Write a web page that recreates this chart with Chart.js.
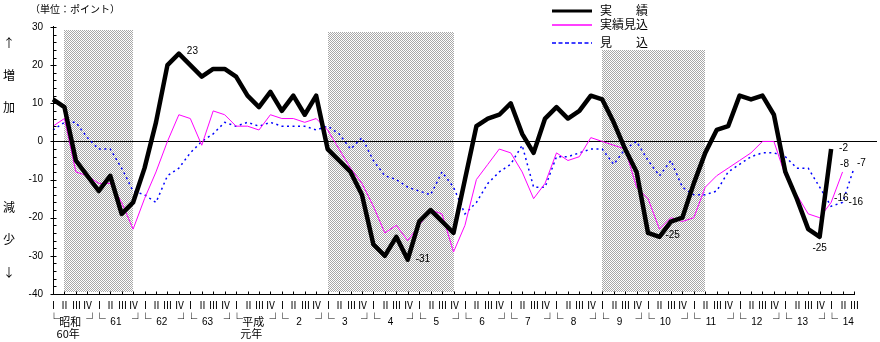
<!DOCTYPE html>
<html><head><meta charset="utf-8">
<script src="https://cdn.jsdelivr.net/npm/chart.js@4.4.0/dist/chart.umd.min.js"></script>
<style>html,body{margin:0;padding:0;background:#fff;}#wrap{width:880px;height:342px;position:relative;}</style>
</head><body><div id="wrap"><canvas id="c" width="880" height="342"></canvas></div>
<script>
// ---- data ----
const quarterNames = ['Ⅰ','Ⅱ','Ⅲ','Ⅳ'];
const yearLabels = ['昭和','61','62','63','平成','2','3','4','5','6','7','8','9','10','11','12','13','14'];
const yearSubLabels = ['60年','','','','元年','','','','','','','','','','','','',''];
const quarterCount = 71;
const categories = [];
for (let i = 0; i < quarterCount; i++) categories.push(quarterNames[i % 4]);

const actual = [11,9,-5,-9,-13,-9,-19,-16,-7,5,20,23,20,17,19,19,17,12,9,13,8,12,7,12,
  -2,-5,-8,-14,-27,-30,-25,-31,-21,-18,-21,-24,-10,4,6,7,10,2,-3,6,9,6,8,12,
  11,5,-2,-8,-24,-25,-21,-20,-11,-3,3,4,12,11,12,7,-8,-15,-23,-25,-2,null,null];
const estimate = [4,6,-8,-9,-11,-11,-16,-23,-15,-8,0,7,6,-1,8,7,4,4,3,7,6,6,5,6,
  3,-2,-7,-11,-17,-24,-22,-26,-22,-18,-19,-29,-22,-10,-6,-2,-3,-8,-15,-11,-3,-5,-4,1,
  0,-1,-2,-12,-15,-23,-20,-21,-20,-12,-9,-7,-5,-3,0,0,-9,-14,-19,-20,-16,-8,null];
const forecast = [3,5,5,1,-2,-2,-7,-13,-14,-16,-9,-7,-3,0,2,5,4,5,4,5,4,4,4,3,
  4,2,-2,1,-5,-9,-10,-12,-13,-14,-8,-12,-19,-16,-11,-8,-6,-1,-12,-12,-4,-4,-3,-2,
  -2,-6,-2,0,-5,-9,-5,-12,-14,-14,-13,-8,-6,-4,-3,-3,-4,-7,-7,-12,-17,-16,-7];
const seriesNames = ['実　　績','実績見込','見　　込'];
const yTickValues = [30,20,10,0,-10,-20,-30,-40];
const shadeStart = [1,24,48];
const shadeEnd = [7,35,57];
const shadeTop = [29.2,28.7,24];
const shadeBottom = -39.4;
const pointLabels = [ // [series, index, text]
  [0,11,'23'],[0,31,'-31'],[0,53,'-25'],[0,67,'-25'],[0,68,'-2'],
  [1,68,'-16'],[1,69,'-8'],[2,69,'-16'],[2,70,'-7']
];

// ---- drawing helpers ----
const JP = '"Noto Sans CJK JP", sans-serif';
const NUM = '"Liberation Sans", Arial, sans-serif';
function makePattern(ctx){
  const pc = document.createElement('canvas'); pc.width = 2; pc.height = 2;
  const p = pc.getContext('2d');
  p.fillStyle = '#ffffff'; p.fillRect(0,0,2,2);
  p.fillStyle = '#a8a8a8'; p.fillRect(0,0,1,1); p.fillRect(1,1,1,1);
  return ctx.createPattern(pc,'repeat');
}
const labelOffsets = {
  '0,11':[8,-2,'left'], '0,31':[8,0,'left'], '0,53':[6,-2,'left'], '0,67':[0,11,'center'],
  '0,68':[8,-1,'left'], '1,68':[3,-4,'left'], '1,69':[2,-8,'center'], '2,69':[6,0,'left'], '2,70':[3,-5,'left']
};

const deco = {
  id:'deco',
  beforeDatasetsDraw(chart){
    const {ctx, chartArea:a, scales:{x,y}} = chart;
    ctx.save();
    ctx.fillStyle = makePattern(ctx);
    for (let k = 0; k < shadeStart.length; k++){
      const x0 = Math.round(x.getPixelForValue(shadeStart[k]));
      const x1 = Math.round(x.getPixelForValue(shadeEnd[k]));
      const y0 = Math.round(y.getPixelForValue(shadeTop[k]));
      const y1 = Math.round(y.getPixelForValue(shadeBottom));
      ctx.fillRect(x0, y0, x1 - x0, y1 - y0);
    }
    ctx.strokeStyle = '#000'; ctx.lineWidth = 1;
    const zy = Math.round(y.getPixelForValue(0)) + 0.5;
    ctx.beginPath(); ctx.moveTo(a.left, zy); ctx.lineTo(877, zy); ctx.stroke();
    ctx.restore();
  },
  afterDraw(chart){
    const {ctx, chartArea:a, scales:{x,y}} = chart;
    ctx.save();
    ctx.strokeStyle = '#000'; ctx.fillStyle = '#000'; ctx.lineWidth = 1;
    const ax = Math.round(a.left) + 0.5, ab = Math.round(a.bottom) + 0.5;
    ctx.beginPath(); ctx.moveTo(ax, a.top - 1); ctx.lineTo(ax, ab); ctx.lineTo(Math.round(a.right) + 1, ab); ctx.stroke();
    for (let v = -40; v <= 30; v += 2){
      const py = Math.round(y.getPixelForValue(v)) + 0.5;
      ctx.beginPath();
      if (v % 10 === 0) { ctx.moveTo(ax - 3, py); ctx.lineTo(ax + 3, py); }
      else { ctx.moveTo(ax, py); ctx.lineTo(ax + 3, py); }
      ctx.stroke();
    }
    ctx.font = '10px ' + NUM; ctx.textAlign = 'right'; ctx.textBaseline = 'middle';
    yTickValues.forEach(v => ctx.fillText(String(v), 43, y.getPixelForValue(v)));
    ctx.font = '10px ' + JP; ctx.textAlign = 'center';
    for (let i = 0; i < quarterCount; i++){
      const px = Math.round(x.getPixelForValue(i)) + 0.5;
      ctx.beginPath(); ctx.moveTo(px, ab); ctx.lineTo(px, ab - 3); ctx.stroke();
      ctx.fillText(categories[i], px, 305);
    }
    const step = x.getPixelForValue(1) - x.getPixelForValue(0);
    for (let k = 0; k < yearLabels.length; k++){
      const q1 = x.getPixelForValue(4*k);
      const mid = q1 + 1.5*step;
      ctx.font = 'bold 12px ' + JP; ctx.textBaseline = 'middle'; ctx.textAlign = 'center';
      ctx.fillText('└', q1 + 1, 319);
      if (4*k + 3 < quarterCount) ctx.fillText('┘', q1 + 3*step + 5, 319);
      const isNum = /^[0-9]+$/.test(yearLabels[k]);
      ctx.font = isNum ? ('10px ' + NUM) : ('11px ' + JP);
      ctx.fillText(yearLabels[k], mid, 322);
      if (yearSubLabels[k]) { ctx.font = '11px ' + JP; ctx.fillText(yearSubLabels[k], mid - 2, 334); }
    }
    ctx.font = '12px ' + JP; ctx.textAlign = 'center'; ctx.textBaseline = 'middle';
    [['↑',43],['増',75],['加',107],['減',207],['少',239],['↓',272]].forEach(t => ctx.fillText(t[0], 9, t[1]));
    ctx.font = '10px ' + JP; ctx.textAlign = 'left';
    ctx.fillText('（単位：ポイント）', 30, 9);
    const lg = [[11,'#000',3,[]],[25,'#ff00ff',1.5,[]],[43,'#0000ff',1.5,[4,2.5]]];
    lg.forEach((l, i) => {
      ctx.strokeStyle = l[1]; ctx.lineWidth = l[2]; ctx.setLineDash(l[3]);
      ctx.beginPath(); ctx.moveTo(552, l[0]); ctx.lineTo(592, l[0]); ctx.stroke();
      ctx.setLineDash([]);
      ctx.fillStyle = '#000'; ctx.font = '12px ' + JP; ctx.textAlign = 'left';
      ctx.fillText(seriesNames[i], 600, l[0] - 1);
    });
    const sets = [actual, estimate, forecast];
    ctx.font = '10px ' + NUM; ctx.fillStyle = '#000';
    pointLabels.forEach(([s, i, t]) => {
      const o = labelOffsets[s + ',' + i];
      ctx.textAlign = o[2];
      ctx.fillText(t, x.getPixelForValue(i) + o[0], y.getPixelForValue(sets[s][i]) + o[1]);
    });
    ctx.restore();
  }
};

new Chart(document.getElementById('c'), {
  type: 'line',
  data: {
    labels: categories,
    datasets: [
      {label: seriesNames[0], data: actual, borderColor:'#000', borderWidth:4.5, pointRadius:0, borderJoinStyle:'round', fill:false, tension:0},
      {label: seriesNames[1], data: estimate, borderColor:'#ff00ff', borderWidth:1, pointRadius:0, fill:false, tension:0},
      {label: seriesNames[2], data: forecast, borderColor:'#0000ff', borderWidth:1.5, borderDash:[2,3.5], pointRadius:0, fill:false, tension:0}
    ]
  },
  options: {
    responsive: false, animation: false, devicePixelRatio: 1,
    layout: {padding: {left:53, right:26, top:27, bottom:48}},
    scales: {
      x: {type:'category', display:false, offset:false},
      y: {display:false, min:-40, max:30}
    },
    plugins: {legend:{display:false}, tooltip:{enabled:false}}
  },
  plugins: [deco]
});
</script></body></html>
